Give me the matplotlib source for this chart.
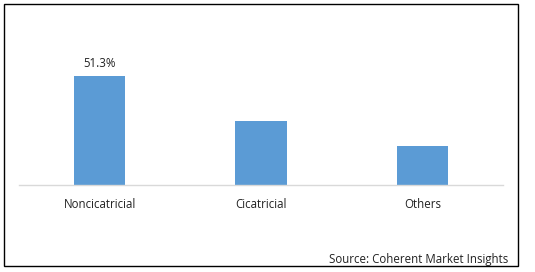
import matplotlib
matplotlib.use("Agg")
import matplotlib.pyplot as plt
from matplotlib.patches import Rectangle

categories = ["Noncicatricial", "Cicatricial", "Others"]
values = [51.3, 30.3, 18.4]
labels = ["51.3%", "", ""]

W, H = 535, 272
fig = plt.figure(figsize=(W/100, H/100), dpi=100)
plt.rcParams['font.family'] = ['Open Sans', 'DejaVu Sans']
FS = 8.3

ax_left, ax_right = 19/W, 503/W
ax_bottom = (H-185)/H
ax_top = (H-20)/H
ax = fig.add_axes([ax_left, ax_bottom, ax_right-ax_left, ax_top-ax_bottom])

x = list(range(len(categories)))
ax.bar(x, values, width=0.32, color="#5b9bd5")
ax.set_xlim(-0.5, len(categories)-0.5)
ax.set_ylim(0, 51.3*(185-20)/109)
for xi, v, lab in zip(x, values, labels):
    if lab:
        ax.annotate(lab, (xi, v), xytext=(0, 4), textcoords="offset points",
                    ha="center", va="bottom", fontsize=FS, color="#222222")
ax.set_xticks(x)
ax.set_xticklabels(categories, fontsize=FS, color="#222222")
ax.tick_params(axis="x", length=0, pad=9.5)
ax.set_yticks([])
for s in ["top", "right", "left"]:
    ax.spines[s].set_visible(False)
ax.spines["bottom"].set_color("#d9d9d9")
ax.spines["bottom"].set_linewidth(1)

fig.patches.append(Rectangle((4/W, (H-266)/H), (518-4)/W, (266-4)/H,
                             transform=fig.transFigure, fill=False,
                             edgecolor="black", linewidth=1))
fig.text(508/W, (H-259)/H, "Source: Coherent Market Insights", ha="right",
         va="center", fontsize=FS, color="#222222")

fig.savefig("out.png", dpi=100)
